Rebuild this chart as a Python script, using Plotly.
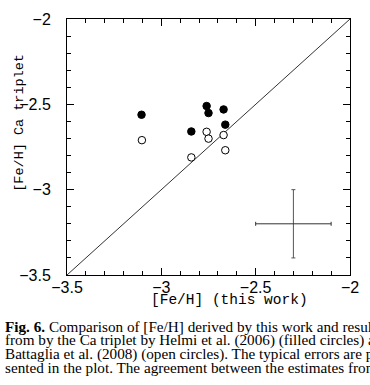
import plotly.graph_objects as go

# Data
helmi_x = [-3.105, -2.841, -2.760, -2.750, -2.670, -2.661]
helmi_y = [-2.561, -2.659, -2.510, -2.551, -2.530, -2.619]
battaglia_x = [-3.103, -2.841, -2.760, -2.750, -2.670, -2.661]
battaglia_y = [-2.710, -2.811, -2.661, -2.701, -2.680, -2.769]
one_to_one = [-3.5, -2.0]
err_x = [-2.3]
err_y = [-3.2]
err_size_x = [0.2]
err_size_y = [0.2]
tick_vals = [-3.5, -3.0, -2.5, -2.0]
tick_text = ["\u22123.5", "\u22123", "\u22122.5", "\u22122"]
x_title = "[Fe/H] (this work)"
y_title = "[Fe/H] Ca triplet"
caption_lines = [
    "<b>Fig. 6.</b> Comparison of [Fe/H] derived by this work and results",
    "from by the Ca triplet by Helmi et al. (2006) (filled circles) and",
    "Battaglia et al. (2008) (open circles). The typical errors are pre-",
    "sented in the plot. The agreement between the estimates from",
]

W, H = 370, 385
L, R, T, B = 67, 11, 11, 110
PW, PH = W - L - R, H - T - B

def px_x(p):
    return (p - L) / PW

def px_y(p):
    return (H - B - p) / PH

fig = go.Figure()
fig.add_trace(go.Scatter(x=one_to_one, y=one_to_one, mode="lines",
                         line=dict(color="#333333", width=1), hoverinfo="skip"))
fig.add_trace(go.Scatter(x=helmi_x, y=helmi_y, mode="markers",
                         marker=dict(size=7.5, color="black", line=dict(color="black", width=1))))
fig.add_trace(go.Scatter(x=battaglia_x, y=battaglia_y, mode="markers",
                         marker=dict(size=7.5, color="white", line=dict(color="black", width=1))))
fig.add_trace(go.Scatter(x=err_x, y=err_y, mode="markers",
                         marker=dict(size=1, color="rgba(0,0,0,0)"),
                         error_x=dict(type="data", array=err_size_x, visible=True,
                                      color="#333333", thickness=1, width=2),
                         error_y=dict(type="data", array=err_size_y, visible=True,
                                      color="#555555", thickness=1, width=2)))

axis_common = dict(
    showgrid=False, zeroline=False, showline=True, linecolor="black", linewidth=1,
    mirror="allticks", ticks="inside", ticklen=7, tickwidth=1, tickcolor="black",
    tickvals=tick_vals, ticktext=tick_text,
    tickfont=dict(family="Liberation Sans", size=16, color="black"),
    minor=dict(dtick=0.1, ticks="inside", ticklen=4, tickwidth=1, tickcolor="black", showgrid=False),
)
fig.update_xaxes(range=[-3.5, -2.0], ticklabelstandoff=-2, **axis_common)
fig.update_yaxes(range=[-3.5, -2.0], ticklabelstandoff=12, **axis_common)

annotations = [
    dict(text=x_title, x=px_x(235), y=px_y(301), xref="paper", yref="paper",
         xanchor="center", yanchor="middle", showarrow=False,
         font=dict(family="Liberation Mono", size=14.5, color="black")),
    dict(text=y_title, x=px_x(18), y=px_y(118.5), xref="paper", yref="paper",
         xanchor="center", yanchor="middle", showarrow=False, textangle=-90,
         font=dict(family="Liberation Mono", size=13.5, color="black")),
]
caption_centers = [328, 342, 356, 370]
for line, cy in zip(caption_lines, caption_centers):
    annotations.append(dict(text=line, x=px_x(1), y=px_y(cy), xref="paper", yref="paper",
                            xanchor="left", yanchor="middle", showarrow=False,
                            font=dict(family="Liberation Serif", size=15.2, color="black")))

fig.update_layout(
    width=W, height=H, margin=dict(l=L, r=R, t=T, b=B),
    paper_bgcolor="white", plot_bgcolor="white", showlegend=False,
    annotations=annotations,
)
fig.write_html("out.html")
